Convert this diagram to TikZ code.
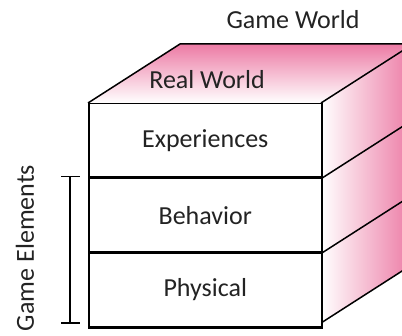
\documentclass[tikz,border=0pt]{standalone}
\usepackage{fontspec}
\setmainfont{Carlito}
\usepackage{tikz}
\usetikzlibrary{positioning}

\definecolor{cubepink}{RGB}{236,122,164}
\definecolor{textgrey}{RGB}{35,35,35}

\tikzset{
	layer/.style={draw, line width=1.5pt, fill=white, minimum width=233pt, minimum height=73.3pt, inner sep=0pt, text=textgrey},
	edge/.style={line width=1.5pt, line join=round},
	lbl/.style={text=textgrey, inner sep=0pt}
}

\begin{document}
\begin{tikzpicture}[x=1pt,y=-1pt,font=\fontsize{26}{30}\selectfont]
		\useasboundingbox (0,0) rectangle (402,336);
		\clip (0,0) rectangle (402,336);
		% corners of the cube
		\coordinate (fl) at (88,103);
		\coordinate (fr) at (321,103);
		\coordinate (bl) at (180,44);
		\coordinate (br) at (413,44);
		\coordinate (dr) at (413,264);
		\coordinate (lr) at (321,323);
		% shaded top and side faces
		\shade [top color=cubepink, bottom color=white] (fl) -- (bl) -- (br) -- (fr) -- cycle;
		\shade [left color=white, right color=cubepink] (fr) -- (br) -- (dr) -- (lr) -- cycle;
		\draw [edge] (fl) -- (bl) -- (br);
		\draw [edge] (fr) -- (br);
		\draw [edge] (lr) -- (dr);
		% front layers
		\node [layer, anchor=north west] (exp) at (fl) {Experiences};
		\node [layer, below=0pt of exp] (beh) {Behavior};
		\node [layer, below=0pt of beh] (phy) {Physical};
		\draw [line width=3pt] (phy.south west) -- (phy.south east);
		\draw [edge] (beh.north east) -- ++(92,-59);
		\draw [edge] (phy.north east) -- ++(92,-59);
		% labels
		\node [lbl] (real) at (207,80) {Real World};
		\node [lbl] (game) at (293,20) {Game World};
		% bracket for the game elements
		\coordinate (bt) at (70,176.3);
		\coordinate (bb) at (70,323);
		\draw [line width=1.5pt] (bt) -- (bb);
		\draw [line width=1.5pt] ([xshift=-9pt]bt) -- ([xshift=10pt]bt);
		\draw [line width=1.5pt] ([xshift=-9pt]bb) -- ([xshift=10pt]bb);
		\node [lbl, rotate=90] (elems) at (25,248) {Game Elements};
	\end{tikzpicture}
\end{document}
